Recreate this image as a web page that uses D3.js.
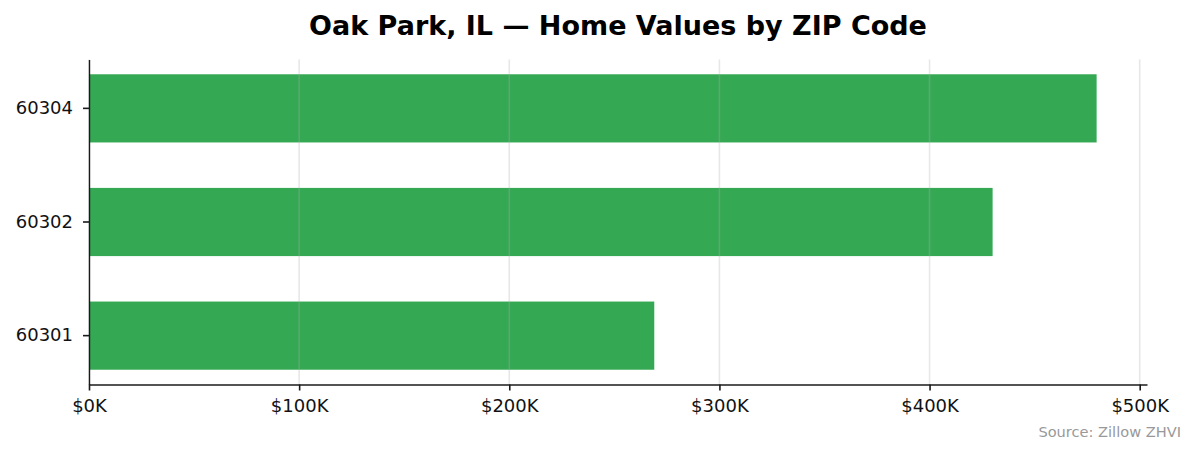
<!DOCTYPE html>
<html>
<head>
<meta charset="utf-8">
<script src="https://cdn.jsdelivr.net/npm/d3@7"></script>
<style>
  html, body { margin: 0; padding: 0; background: #fff; }
  svg { display: block; font-family: "DejaVu Sans", sans-serif; }
  .tick text { fill: #111; }
</style>
</head>
<body>
<div id="chart"></div>
<script>
// values
const zipCodes = ["60304", "60302", "60301"];
const homeValues = [479500, 430000, 269000];
const xTickValues = [0, 100000, 200000, 300000, 400000, 500000];
const xTickLabels = ["$0K", "$100K", "$200K", "$300K", "$400K", "$500K"];

const width = 1195;
const height = 455;
const margin = { top: 59.5, right: 48, bottom: 70.5, left: 89 };

const svg = d3
  .select("#chart")
  .append("svg")
  .attr("width", width)
  .attr("height", height);

const x = d3
  .scaleLinear()
  .domain([0, d3.max(homeValues) * 1.05])
  .range([margin.left, width - margin.right]);

const y = d3
  .scaleBand()
  .domain(zipCodes)
  .range([margin.top, height - margin.bottom])
  .paddingInner(0.4)
  .paddingOuter(0.13);

const rows = zipCodes.map((zip, i) => ({ zip, value: homeValues[i] }));

// bars
svg
  .append("g")
  .selectAll("rect")
  .data(rows)
  .enter()
  .append("rect")
  .attr("x", x(0))
  .attr("y", (d) => y(d.zip))
  .attr("width", (d) => x(d.value) - x(0))
  .attr("height", y.bandwidth())
  .attr("fill", "#34a853");

// vertical grid, drawn over the bars with some transparency
svg
  .append("g")
  .selectAll("line")
  .data(xTickValues)
  .enter()
  .append("line")
  .attr("x1", (d) => x(d))
  .attr("x2", (d) => x(d))
  .attr("y1", margin.top)
  .attr("y2", height - margin.bottom)
  .attr("stroke", "#b0b0b0")
  .attr("stroke-opacity", 0.3)
  .attr("stroke-width", 1.6);

// x axis
const xAxis = d3
  .axisBottom(x)
  .tickValues(xTickValues)
  .tickFormat((d, i) => xTickLabels[i])
  .tickSize(6)
  .tickPadding(9)
  .tickSizeOuter(0);

const gx = svg
  .append("g")
  .attr("transform", `translate(0,${height - margin.bottom})`)
  .call(xAxis);

// y axis
const yAxis = d3.axisLeft(y).tickSize(6).tickPadding(10).tickSizeOuter(0);

const gy = svg
  .append("g")
  .attr("transform", `translate(${margin.left},0)`)
  .call(yAxis);

[gx, gy].forEach((g) => {
  g.select(".domain").attr("stroke", "#1a1a1a").attr("stroke-width", 1.4);
  g.selectAll(".tick line").attr("stroke", "#1a1a1a").attr("stroke-width", 1.6);
  g.selectAll(".tick text")
    .attr("font-size", "18px")
    .attr("font-family", "DejaVu Sans, sans-serif");
});

// title
svg
  .append("text")
  .attr("x", (x.range()[0] + x.range()[1]) / 2)
  .attr("y", 35)
  .attr("text-anchor", "middle")
  .attr("font-size", "27px")
  .attr("font-weight", "bold")
  .attr("fill", "#000")
  .text("Oak Park, IL \u2014 Home Values by ZIP Code");

// source note
svg
  .append("text")
  .attr("x", 1181)
  .attr("y", 437)
  .attr("text-anchor", "end")
  .attr("font-size", "14.6px")
  .attr("fill", "#999")
  .text("Source: Zillow ZHVI");
</script>
</body>
</html>
